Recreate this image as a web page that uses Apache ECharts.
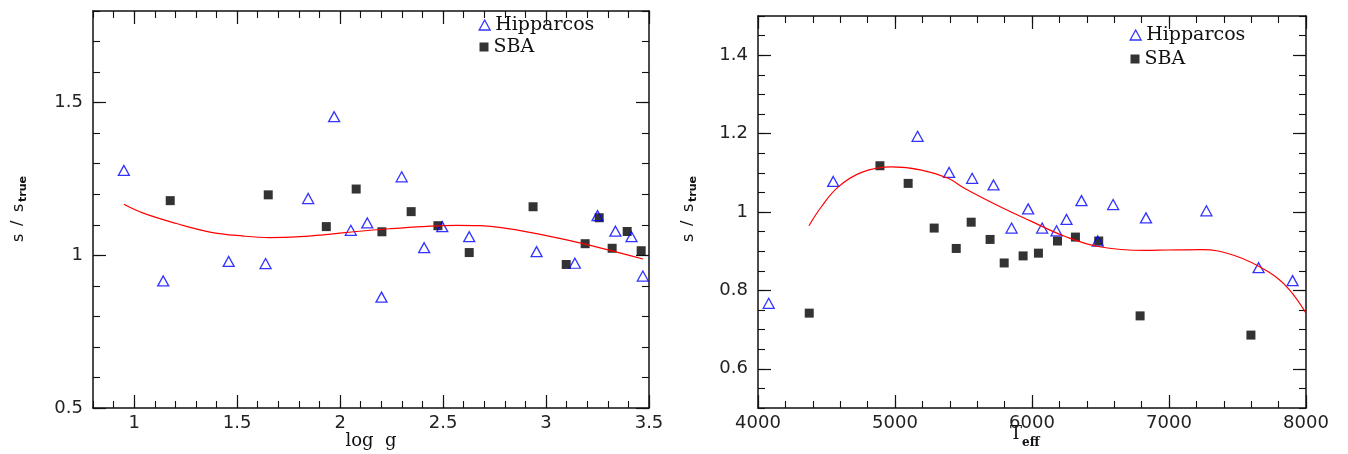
<!DOCTYPE html>
<html>
<head>
<meta charset="utf-8">
<title>s/s_true vs log g and Teff</title>
<script src="https://cdn.jsdelivr.net/npm/echarts@6/dist/echarts.min.js"></script>
<style>
  html, body { margin: 0; padding: 0; background: #fff; }
  #chart { width: 1348px; height: 454px; }
</style>
</head>
<body>
<div id="chart"></div>
<script>
// ---- Left panel: ratio against surface gravity ----
const loggHipX = [0.950, 1.141, 1.459, 1.638, 1.845, 1.971, 2.052, 2.132, 2.201, 2.299, 2.408, 2.496, 2.627, 2.954, 3.140, 3.250, 3.337, 3.415, 3.470];
const loggHipY = [1.278, 0.916, 0.980, 0.973, 1.186, 1.454, 1.082, 1.106, 0.863, 1.257, 1.025, 1.094, 1.061, 1.012, 0.974, 1.130, 1.079, 1.061, 0.932];
const loggSbaX = [1.175, 1.651, 1.933, 2.078, 2.203, 2.345, 2.475, 2.627, 2.937, 3.098, 3.190, 3.258, 3.321, 3.394, 3.462];
const loggSbaY = [1.179, 1.198, 1.094, 1.217, 1.077, 1.143, 1.097, 1.009, 1.159, 0.970, 1.038, 1.123, 1.023, 1.078, 1.015];
const loggFitX = [0.950, 1.044, 1.206, 1.368, 1.530, 1.659, 1.805, 1.918, 2.080, 2.242, 2.403, 2.566, 2.679, 2.792, 2.954, 3.116, 3.277, 3.471];
const loggFitY = [1.167, 1.138, 1.104, 1.076, 1.063, 1.058, 1.061, 1.067, 1.078, 1.087, 1.094, 1.098, 1.097, 1.090, 1.071, 1.048, 1.022, 0.988];
const loggTicksX = [1, 1.5, 2, 2.5, 3, 3.5];
const loggTicksY = [0.5, 1, 1.5];

// ---- Right panel: ratio against effective temperature ----
const teffHipX = [4078, 4549, 5165, 5395, 5563, 5719, 5851, 5972, 6074, 6179, 6252, 6361, 6480, 6592, 6832, 7273, 7654, 7902];
const teffHipY = [0.767, 1.078, 1.193, 1.101, 1.086, 1.069, 0.959, 1.008, 0.959, 0.952, 0.981, 1.029, 0.926, 1.019, 0.985, 1.003, 0.858, 0.825];
const teffSbaX = [4374, 4890, 5096, 5286, 5447, 5556, 5694, 5797, 5935, 6047, 6186, 6317, 6487, 6789, 7598];
const teffSbaY = [0.742, 1.118, 1.073, 0.959, 0.907, 0.974, 0.930, 0.870, 0.888, 0.895, 0.926, 0.936, 0.926, 0.735, 0.686];
const teffFitX = [4372, 4464, 4586, 4756, 4975, 5194, 5388, 5510, 5753, 5996, 6239, 6482, 6823, 6993, 7236, 7477, 7722, 7868, 8000];
const teffFitY = [0.965, 1.014, 1.064, 1.101, 1.115, 1.107, 1.086, 1.060, 1.016, 0.976, 0.938, 0.912, 0.902, 0.903, 0.904, 0.889, 0.848, 0.806, 0.742];
const teffTicksX = [4000, 5000, 6000, 7000, 8000];
const teffTicksY = [0.6, 0.8, 1, 1.2, 1.4];

const FRAME = '#111';
const TICK_FONT = '"DejaVu Sans", sans-serif';
const TEXT_FONT = '"DejaVu Serif", serif';

const zip = (xs, ys) => xs.map((x, i) => [x, ys[i]]);
const fmt = v => String(Math.round(v * 1000) / 1000);

// One side of a boxed frame: a long-tick axis (optionally labelled) plus a short-tick axis.
function side(gridIndex, position, min, max, majors, minorStep, labelled, labelMargin) {
  const major = {
    type: 'value', gridIndex, position, min, max,
    axisLine: { show: true, onZero: false, lineStyle: { color: FRAME, width: 1.5 } },
    axisTick: { show: true, inside: true, length: 13, customValues: majors, lineStyle: { color: FRAME, width: 1.2 } },
    axisLabel: {
      show: labelled, customValues: majors, formatter: fmt, margin: labelMargin,
      color: '#222', fontFamily: TICK_FONT, fontSize: 18
    },
    splitLine: { show: false }
  };
  const minor = {
    type: 'value', gridIndex, position, min, max, interval: minorStep,
    axisLine: { show: false },
    axisTick: { show: true, inside: true, length: 7, lineStyle: { color: FRAME, width: 1.1 } },
    axisLabel: { show: false },
    splitLine: { show: false }
  };
  return [major, minor];
}

const xAxes = [
  ...side(0, 'bottom', 0.8, 3.5, loggTicksX, 0.1, true, 6),
  ...side(0, 'top', 0.8, 3.5, loggTicksX, 0.1, false, 6),
  ...side(1, 'bottom', 4000, 8000, teffTicksX, 200, true, 6),
  ...side(1, 'top', 4000, 8000, teffTicksX, 200, false, 6)
];
const yAxes = [
  ...side(0, 'left', 0.5, 1.8, loggTicksY, 0.1, true, 10),
  ...side(0, 'right', 0.5, 1.8, loggTicksY, 0.1, false, 10),
  ...side(1, 'left', 0.5, 1.5, teffTicksY, 0.05, true, 10),
  ...side(1, 'right', 0.5, 1.5, teffTicksY, 0.05, false, 10)
];

const hipStyle = { color: 'rgba(0,0,0,0)', borderColor: '#0000ff', borderWidth: 1.3 };
const sbaStyle = { color: '#000' };

function panelSeries(axisIndex, sbaX, sbaY, hipX, hipY, fitX, fitY) {
  return [
    { name: 'SBA', type: 'scatter', xAxisIndex: axisIndex, yAxisIndex: axisIndex,
      symbol: 'rect', symbolSize: 9, itemStyle: sbaStyle, data: zip(sbaX, sbaY), z: 2 },
    { name: 'Hipparcos', type: 'scatter', xAxisIndex: axisIndex, yAxisIndex: axisIndex,
      symbol: 'triangle', symbolSize: [11, 10], itemStyle: hipStyle, data: zip(hipX, hipY), z: 3 },
    { name: 'fit', type: 'line', xAxisIndex: axisIndex, yAxisIndex: axisIndex,
      smooth: 0.4, showSymbol: false, symbol: 'none',
      lineStyle: { color: '#ff0000', width: 1.2 }, data: zip(fitX, fitY), z: 4 }
  ];
}

function legendEntry(name, left, top, icon, w, h, style) {
  return {
    data: [{ name, icon, itemStyle: style }],
    left, top, orient: 'vertical', itemWidth: w, itemHeight: h, padding: 0,
    selectedMode: false,
    textStyle: { fontFamily: TEXT_FONT, fontSize: 19, color: '#111', lineHeight: 20 }
  };
}

// Rotated "s / s_true" axis title built from separate text pieces.
function ratioTitle(x, y) {
  const f = '16px "DejaVu Sans", sans-serif';
  return {
    type: 'group', x, y, rotation: Math.PI / 2,
    children: [
      { type: 'text', style: { text: 's', x: -32, y: 0, font: f, fill: '#111', verticalAlign: 'middle' } },
      { type: 'text', style: { text: '/', x: -16, y: -1, font: f, fill: '#111', verticalAlign: 'middle' } },
      { type: 'text', style: { text: 's', x: -2, y: 0, font: f, fill: '#111', verticalAlign: 'middle' } },
      { type: 'text', style: { text: 'true', x: 8, y: 4, font: 'bold 11px "DejaVu Sans", sans-serif', fill: '#111', verticalAlign: 'middle' } }
    ]
  };
}

const chart = echarts.init(document.getElementById('chart'), null, { renderer: 'canvas' });
chart.setOption({
  animation: false,
  backgroundColor: '#fff',
  grid: [
    { left: 93, top: 11, width: 556, height: 397 },
    { left: 758, top: 16, width: 548, height: 392 }
  ],
  xAxis: xAxes,
  yAxis: yAxes,
  legend: [
    legendEntry('Hipparcos', 478.5, 15, 'triangle', 11, 10, hipStyle),
    legendEntry('SBA', 479.5, 37, 'rect', 9, 9, sbaStyle),
    legendEntry('Hipparcos', 1129.5, 25, 'triangle', 11, 10, hipStyle),
    legendEntry('SBA', 1130.5, 49, 'rect', 9, 9, sbaStyle)
  ],
  graphic: [
    ratioTitle(19, 210),
    ratioTitle(689, 210),
    { type: 'text', style: { text: 'log  g', x: 371, y: 441, font: '18px "DejaVu Serif", serif', fill: '#111', align: 'center', verticalAlign: 'middle' } },
    { type: 'text', style: { text: 'T', x: 1010, y: 434, font: '18px "DejaVu Serif", serif', fill: '#111', verticalAlign: 'middle' } },
    { type: 'text', style: { text: 'eff', x: 1022, y: 443, font: 'bold 12px "DejaVu Serif", serif', fill: '#111', verticalAlign: 'middle' } }
  ],
  series: [
    ...panelSeries(0, loggSbaX, loggSbaY, loggHipX, loggHipY, loggFitX, loggFitY),
    ...panelSeries(4, teffSbaX, teffSbaY, teffHipX, teffHipY, teffFitX, teffFitY)
  ]
});
</script>
</body>
</html>
